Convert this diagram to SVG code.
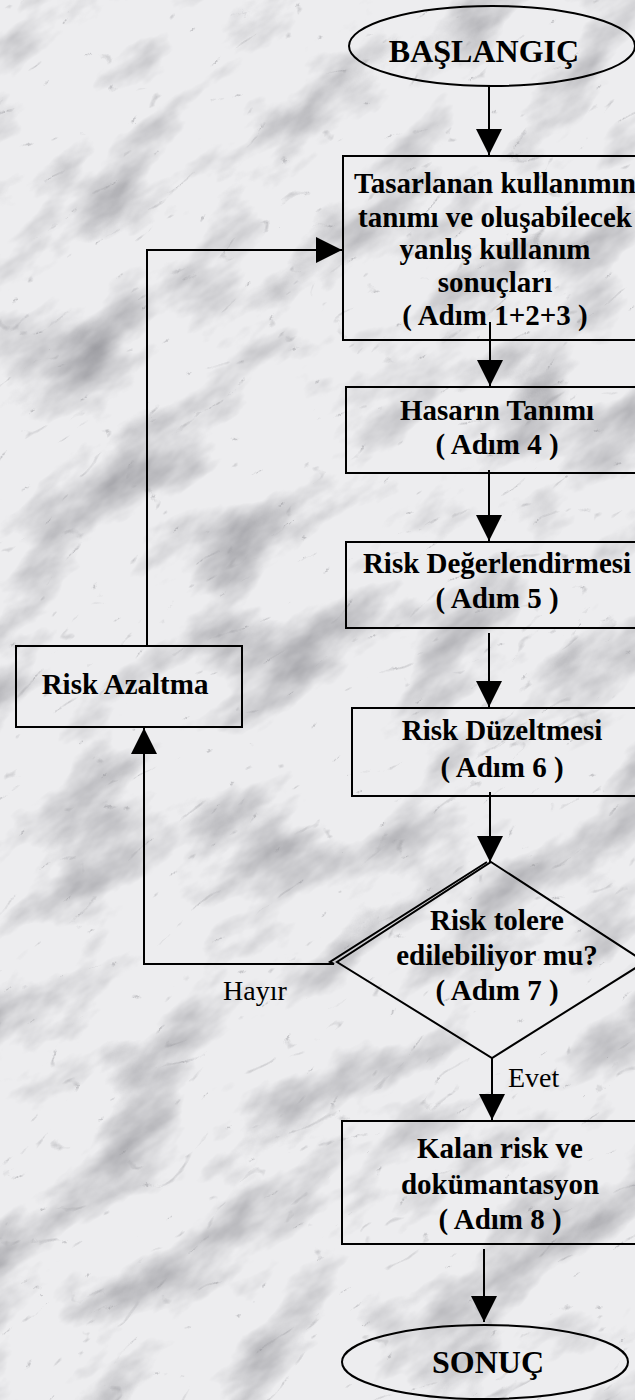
<svg xmlns="http://www.w3.org/2000/svg" width="635" height="1400" viewBox="0 0 635 1400">
<style>
.n{fill:none;stroke:#000;stroke-width:2}
.c{fill:none;stroke:#000;stroke-width:2}
.t{font-family:"Liberation Serif","Times New Roman",serif;font-weight:bold;font-size:29px;fill:#000;text-anchor:middle}
.big{font-size:32px}
.lbl{font-family:"Liberation Serif","Times New Roman",serif;font-size:28px;fill:#000}
</style>
<defs>
<filter id="marble" x="0" y="0" width="1" height="1" color-interpolation-filters="sRGB">
<feTurbulence type="fractalNoise" baseFrequency="0.008 0.016" numOctaves="5" seed="11"/>
<feColorMatrix type="matrix" values="0 0 0 0 0.62  0 0 0 0 0.62  0 0 0 0 0.64  -2.2 0 0 0 1.12"/>
</filter>
<filter id="marble2" x="0" y="0" width="1" height="1" color-interpolation-filters="sRGB">
<feTurbulence type="turbulence" baseFrequency="0.01 0.025" numOctaves="3" seed="5"/>
<feColorMatrix type="matrix" values="0 0 0 0 0.55  0 0 0 0 0.55  0 0 0 0 0.57  -5 0 0 0 0.38"/>
</filter>
<marker id="ah" markerUnits="userSpaceOnUse" markerWidth="26" markerHeight="26" refX="26" refY="13" orient="auto">
<path d="M0,0 L26,13 L0,26 Z" fill="#000"/>
</marker>
</defs>
<rect x="0" y="0" width="635" height="1400" fill="#ededef"/>
<g transform="rotate(-35 317 700)">
<rect x="-700" y="-500" width="2000" height="2400" fill="#fff" filter="url(#marble)"/>
<rect x="-700" y="-500" width="2000" height="2400" fill="#fff" filter="url(#marble2)"/>
</g>

<g id="connectors">
<path class="c" d="M489,86 V155" marker-end="url(#ah)"/>
<path class="c" d="M490,322 V386" marker-end="url(#ah)"/>
<path class="c" d="M489,470 V541" marker-end="url(#ah)"/>
<path class="c" d="M489,633 V707" marker-end="url(#ah)"/>
<path class="c" d="M490,792 V862" marker-end="url(#ah)"/>
<path class="c" d="M492,1058 V1120" marker-end="url(#ah)"/>
<path class="c" d="M484,1249 V1322" marker-end="url(#ah)"/>
<path class="c" d="M487,862 L330,962 L334,964 H144 V728" marker-end="url(#ah)"/>
<path class="c" d="M147,646 V250 H342" marker-end="url(#ah)"/>
<text class="lbl" x="255" y="1000" text-anchor="middle">Hayır</text>
<text class="lbl" x="508" y="1087">Evet</text>
</g>

<g id="start">
<ellipse class="n" cx="492" cy="46" rx="143" ry="40"/>
<text class="t big" x="484" y="62">BAŞLANGIÇ</text>
</g>

<g id="step123">
<rect class="n" x="343" y="156" width="300" height="184"/>
<text class="t" x="495" y="193">Tasarlanan kullanımın</text>
<text class="t" x="495" y="227">tanımı ve oluşabilecek</text>
<text class="t" x="495" y="259">yanlış kullanım</text>
<text class="t" x="495" y="292">sonuçları</text>
<text class="t" x="495" y="325">( Adım 1+2+3 )</text>
</g>

<g id="step4">
<rect class="n" x="346" y="387" width="300" height="86"/>
<text class="t" x="497" y="420">Hasarın Tanımı</text>
<text class="t" x="497" y="454">( Adım 4 )</text>
</g>

<g id="step5">
<rect class="n" x="346" y="542" width="300" height="86"/>
<text class="t" x="497" y="573">Risk Değerlendirmesi</text>
<text class="t" x="497" y="608">( Adım 5 )</text>
</g>

<g id="step6">
<rect class="n" x="352" y="708" width="300" height="88"/>
<text class="t" x="502" y="740">Risk Düzeltmesi</text>
<text class="t" x="502" y="777">( Adım 6 )</text>
</g>

<g id="step7">
<polygon class="n" points="491,862 645,962 492,1058 337,962"/>
<text class="t" x="497" y="930">Risk tolere</text>
<text class="t" x="497" y="965">edilebiliyor mu?</text>
<text class="t" x="497" y="1000">( Adım 7 )</text>
</g>

<g id="reduce">
<rect class="n" x="16" y="646" width="226" height="81"/>
<text class="t" x="125" y="694">Risk Azaltma</text>
</g>

<g id="step8">
<rect class="n" x="342" y="1121" width="300" height="123"/>
<text class="t" x="500" y="1158">Kalan risk ve</text>
<text class="t" x="500" y="1194">dokümantasyon</text>
<text class="t" x="500" y="1229">( Adım 8 )</text>
</g>

<g id="end">
<ellipse class="n" cx="485" cy="1362" rx="143" ry="37"/>
<text class="t big" x="488" y="1373">SONUÇ</text>
</g>
</svg>
